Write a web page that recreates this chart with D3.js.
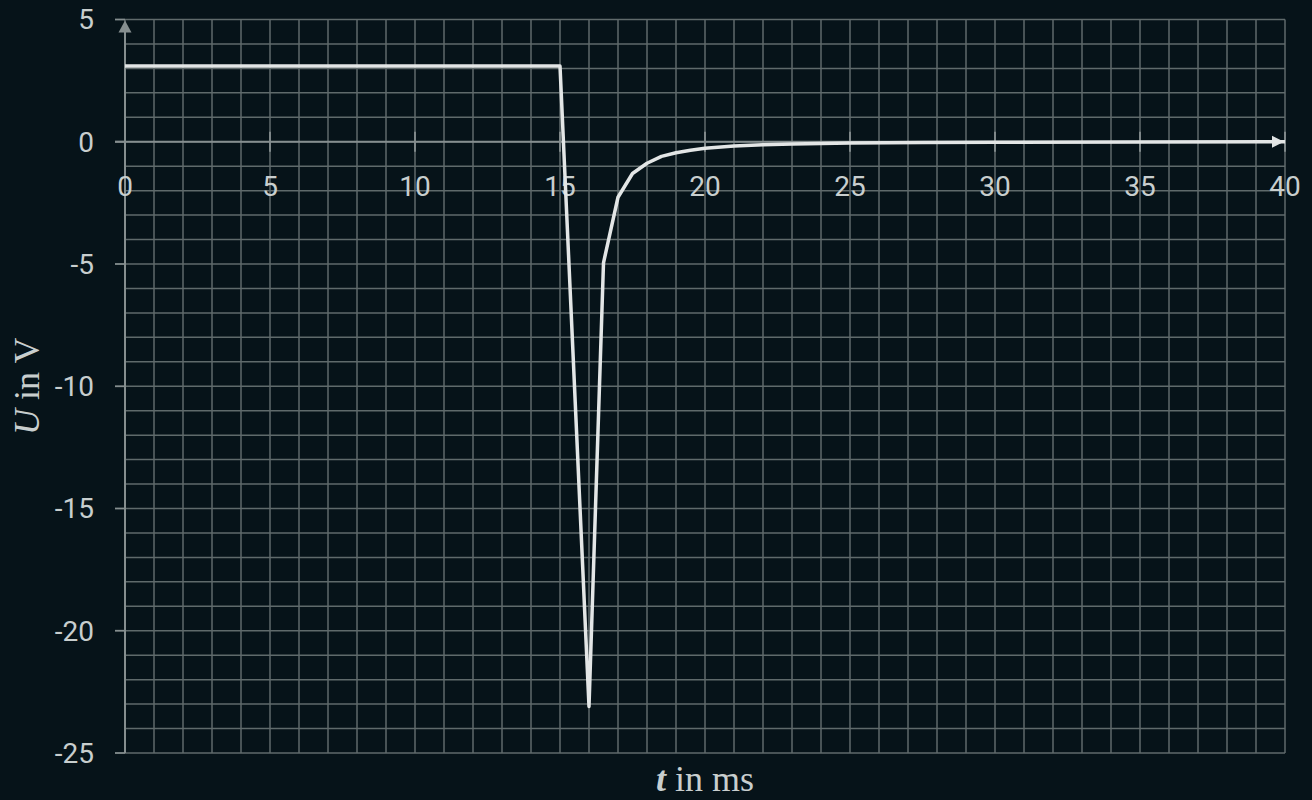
<!DOCTYPE html>
<html lang="en">
<head>
  <meta charset="UTF-8">
  <title>U(t)</title>
  <script src="https://d3js.org/d3.v7.min.js"></script>
  <style>
    body {
      margin: 0;
      background-color: #061319;
      overflow: hidden;
    }
    .grid line {
      stroke: #5f6a6b;
      stroke-width: 1.5;
    }
    .tick-label {
      font-family: Roboto, sans-serif;
      font-size: 28px;
      fill: #c8cece;
    }
    .axis-title {
      font-family: "Liberation Serif", serif;
      font-size: 36px;
      fill: #c8cece;
    }
  </style>
</head>
<body>
  <div id="chart"></div>
  <script>
    // values
    const timeMs = [0, 15, 16, 16.5, 17, 17.5, 18, 18.5, 19, 19.5, 20, 21, 22, 23, 24, 25, 27.5, 30, 35, 40];
    const voltage = [3.1, 3.1, -23.1, -4.95, -2.27, -1.3, -0.88, -0.6, -0.45, -0.35, -0.27, -0.17, -0.12, -0.09, -0.07, -0.05, -0.03, -0.02, -0.01, 0];

    const xTicks = [0, 5, 10, 15, 20, 25, 30, 35, 40];
    const yTicks = [5, 0, -5, -10, -15, -20, -25];

    const width = 1312;
    const height = 800;

    const x = d3.scaleLinear().domain([0, 40]).range([125, 1285]);
    const y = d3.scaleLinear().domain([-25, 5]).range([753, 19.5]);

    const svg = d3.select("#chart")
      .append("svg")
      .attr("width", width)
      .attr("height", height);

    // minor grid, 1 ms / 1 V
    const grid = svg.append("g").attr("class", "grid");
    grid.selectAll(".v")
      .data(d3.range(0, 41))
      .join("line")
      .attr("class", "v")
      .attr("x1", d => x(d)).attr("x2", d => x(d))
      .attr("y1", y(-25)).attr("y2", y(5));
    grid.selectAll(".h")
      .data(d3.range(-25, 6))
      .join("line")
      .attr("class", "h")
      .attr("x1", x(0)).attr("x2", x(40))
      .attr("y1", d => y(d)).attr("y2", d => y(d));

    const axisColor = "#858e8f";

    // y ticks stick out to the left
    svg.selectAll(".ytick")
      .data(yTicks)
      .join("line")
      .attr("x1", x(0) - 10).attr("x2", x(0))
      .attr("y1", d => y(d)).attr("y2", d => y(d))
      .attr("stroke", axisColor)
      .attr("stroke-width", 1.8);

    // x ticks across the axis
    svg.selectAll(".xtick")
      .data(xTicks)
      .join("line")
      .attr("x1", d => x(d)).attr("x2", d => x(d))
      .attr("y1", y(0) - 10).attr("y2", y(0) + 10)
      .attr("stroke", axisColor)
      .attr("stroke-width", 1.8);

    // axes with arrows
    svg.append("line")
      .attr("x1", x(0)).attr("x2", x(0))
      .attr("y1", y(-25)).attr("y2", y(5) + 10)
      .attr("stroke", axisColor)
      .attr("stroke-width", 2);
    svg.append("path")
      .attr("d", `M${x(0)},${y(5) + 1} L${x(0) - 6.5},${y(5) + 13} L${x(0) + 6.5},${y(5) + 13} Z`)
      .attr("fill", axisColor);

    svg.append("line")
      .attr("x1", x(0) - 10).attr("x2", x(40) - 10)
      .attr("y1", y(0)).attr("y2", y(0))
      .attr("stroke", axisColor)
      .attr("stroke-width", 2);
    svg.append("path")
      .attr("d", `M${x(40) - 1},${y(0)} L${x(40) - 13},${y(0) - 6} L${x(40) - 13},${y(0) + 6} Z`)
      .attr("fill", "#dfe3e3");

    // tick labels
    svg.selectAll(".xlabel")
      .data(xTicks)
      .join("text")
      .attr("class", "tick-label")
      .attr("x", d => x(d))
      .attr("y", y(0) + 44)
      .attr("dy", "0.35em")
      .attr("text-anchor", "middle")
      .text(d => d);

    svg.selectAll(".ylabel")
      .data(yTicks)
      .join("text")
      .attr("class", "tick-label")
      .attr("x", 94)
      .attr("y", d => y(d))
      .attr("dy", "0.35em")
      .attr("text-anchor", "end")
      .text(d => d);

    // signal
    const line = d3.line()
      .x((d, i) => x(timeMs[i]))
      .y(d => y(d));

    svg.append("path")
      .datum(voltage)
      .attr("d", line)
      .attr("fill", "none")
      .attr("stroke", "#e3e6e6")
      .attr("stroke-width", 3.5)
      .attr("stroke-linejoin", "round");

    // axis titles
    const yTitle = svg.append("text")
      .attr("class", "axis-title")
      .attr("transform", `translate(39,${(y(5) + y(-25)) / 2}) rotate(-90)`)
      .attr("text-anchor", "middle");
    yTitle.append("tspan").attr("font-style", "italic").text("U");
    yTitle.append("tspan").text(" in V");

    const xTitle = svg.append("text")
      .attr("class", "axis-title")
      .attr("x", (x(0) + x(40)) / 2)
      .attr("y", 791)
      .attr("text-anchor", "middle");
    xTitle.append("tspan").attr("font-style", "italic").attr("font-weight", "bold").text("t");
    xTitle.append("tspan").text(" in ms");
  </script>
</body>
</html>
